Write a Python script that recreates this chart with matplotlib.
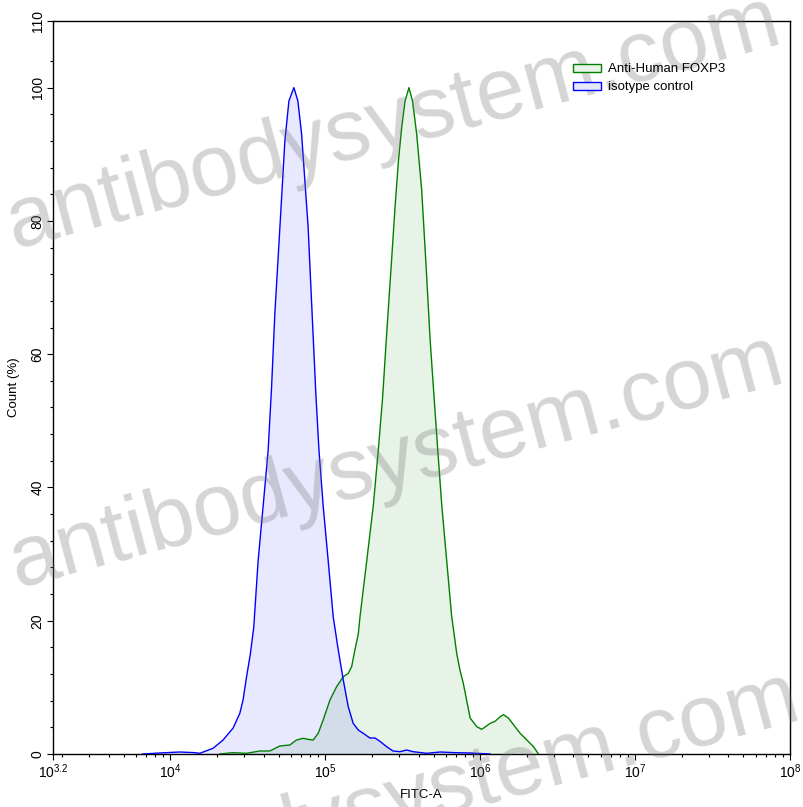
import numpy as np
import matplotlib
matplotlib.use("Agg")
import matplotlib.pyplot as plt
from matplotlib.patches import Patch
from matplotlib.ticker import FixedLocator, LogLocator, NullFormatter

plt.rcParams['font.family'] = ['Liberation Sans', 'DejaVu Sans']
plt.rcParams['mathtext.fontset'] = 'custom'
plt.rcParams['mathtext.rm'] = 'Liberation Sans'

# ---- data (log10 FITC-A, Count %) ----
iso_log = [3.821, 3.931, 4.060, 4.157, 4.189, 4.275, 4.340, 4.405, 4.448, 4.469,
           4.491, 4.516, 4.538, 4.566, 4.599, 4.631, 4.653, 4.674, 4.707, 4.739,
           4.765, 4.797, 4.823, 4.847, 4.889, 4.911, 4.939, 4.959, 4.986, 5.019,
           5.051, 5.081, 5.116, 5.148, 5.180, 5.213, 5.245, 5.288, 5.321, 5.353,
           5.396, 5.437, 5.482, 5.526, 5.566, 5.655, 5.741, 5.838, 5.935, 6.064]
iso_cnt = [0.0, 0.15, 0.3, 0.2, 0.1, 0.85, 2.1, 3.9, 6.1, 8.1,
           11.5, 15.0, 19.0, 28.9, 37.3, 45.6, 55.0, 66.0, 79.1, 92.0,
           98.0, 100.0, 98.0, 93.0, 79.1, 68.0, 54.0, 45.6, 37.3, 28.9,
           20.6, 16.0, 11.1, 7.1, 4.6, 3.6, 3.1, 2.4, 2.4, 1.9,
           1.1, 0.45, 0.35, 0.6, 0.35, 0.1, 0.3, 0.2, 0.15, 0.0]

foxp3_log = [4.319, 4.403, 4.491, 4.577, 4.642, 4.706, 4.771, 4.814, 4.857, 4.888,
             4.922, 4.954, 4.986, 5.030, 5.073, 5.116, 5.148, 5.170, 5.191, 5.213,
             5.224, 5.267, 5.310, 5.342, 5.370, 5.396, 5.429, 5.450, 5.472, 5.493,
             5.515, 5.540, 5.563, 5.590, 5.622, 5.650, 5.676, 5.704, 5.726, 5.752,
             5.784, 5.816, 5.849, 5.870, 5.891, 5.935, 5.978, 6.010, 6.064, 6.096,
             6.129, 6.150, 6.182, 6.215, 6.258, 6.301, 6.344, 6.376]
foxp3_cnt = [0.0, 0.2, 0.1, 0.45, 0.45, 1.2, 1.35, 2.1, 2.35, 2.2,
             2.1, 3.1, 5.1, 8.1, 10.1, 11.6, 12.1, 13.1, 15.6, 18.0,
             20.6, 28.9, 37.3, 45.6, 53.5, 63.0, 74.5, 82.0, 89.0, 94.0,
             98.0, 100.0, 98.0, 93.0, 84.7, 73.5, 62.4, 52.9, 45.6, 37.3,
             28.9, 20.6, 15.0, 12.5, 10.6, 5.4, 4.1, 3.7, 4.6, 4.9,
             5.6, 5.9, 5.4, 4.4, 3.1, 2.1, 1.1, 0.0]

series_names = ["Anti-Human FOXP3", "isotype control"]
x_tick_exps = [3.242, 4, 5, 6, 7, 8]
x_tick_labels = [r'$\mathregular{10^{3.2}}$', r'$\mathregular{10^{4}}$', r'$\mathregular{10^{5}}$',
                 r'$\mathregular{10^{6}}$', r'$\mathregular{10^{7}}$', r'$\mathregular{10^{8}}$']
y_ticks = [0, 20, 40, 60, 80, 100, 110]
watermark = "antibodysystem.com"

W, H = 804, 807
fig = plt.figure(figsize=(W / 100, H / 100), dpi=100)
ax = fig.add_axes([53 / W, (H - 754) / H, (790 - 53) / W, (754 - 21) / H])

iso_x = 10 ** np.array(iso_log)
fox_x = 10 ** np.array(foxp3_log)

green = '#008000'
blue = '#0000ff'
ax.fill_between(fox_x, 0, foxp3_cnt, color=green, alpha=0.09, lw=0, zorder=1)
ax.fill_between(iso_x, 0, iso_cnt, color=blue, alpha=0.09, lw=0, zorder=1.1)
ax.plot(fox_x, foxp3_cnt, color=green, lw=1.0, zorder=3)
ax.plot(iso_x, iso_cnt, color=blue, lw=1.0, zorder=3.1)

ax.set_xscale('log')
ax.set_xlim(10 ** 3.242, 1e8)
ax.set_ylim(0, 110)
ax.xaxis.set_major_locator(FixedLocator([10 ** e for e in x_tick_exps]))
ax.set_xticklabels(x_tick_labels)
ax.xaxis.set_minor_locator(LogLocator(base=10, subs=np.arange(2, 10)))
ax.xaxis.set_minor_formatter(NullFormatter())

ax.set_yticks(y_ticks)
ax.set_yticklabels([str(v) for v in y_ticks], rotation=90, va='center')
ax.yaxis.set_minor_locator(FixedLocator([v for v in range(4, 105, 4) if v % 20 != 0]))

ax.tick_params(which='major', length=4, width=0.8, labelsize=10, direction='out', pad=2)
ax.tick_params(which='minor', length=2.5, width=0.8, direction='out')
for s in ax.spines.values():
    s.set_linewidth(1.0)
    s.set_color('black')

ax.set_xlabel('FITC-A', fontsize=9.5, labelpad=6)
ax.set_ylabel('Count (%)', fontsize=9.5, labelpad=8)

handles = [Patch(facecolor=(0.91, 0.95, 0.91), edgecolor=green, lw=1.0),
           Patch(facecolor=(0.91, 0.91, 0.99), edgecolor=blue, lw=1.0)]
fig.legend(handles, series_names, loc='upper left', bbox_to_anchor=(568 / W, 1 - 58 / H),
           frameon=False, fontsize=9.5, handlelength=2.1, handleheight=0.55,
           handletextpad=0.55, labelspacing=0.45, borderaxespad=0)

# watermark
for cx, cy in [(393, 124), (396, 463), (412, 800)]:
    fig.text(cx / W, 1 - cy / H, watermark, fontsize=63, color=(0.45, 0.45, 0.45), alpha=0.3,
             rotation=15, rotation_mode='anchor', ha='center', va='center', zorder=2)

fig.savefig('out.png', dpi=100)
